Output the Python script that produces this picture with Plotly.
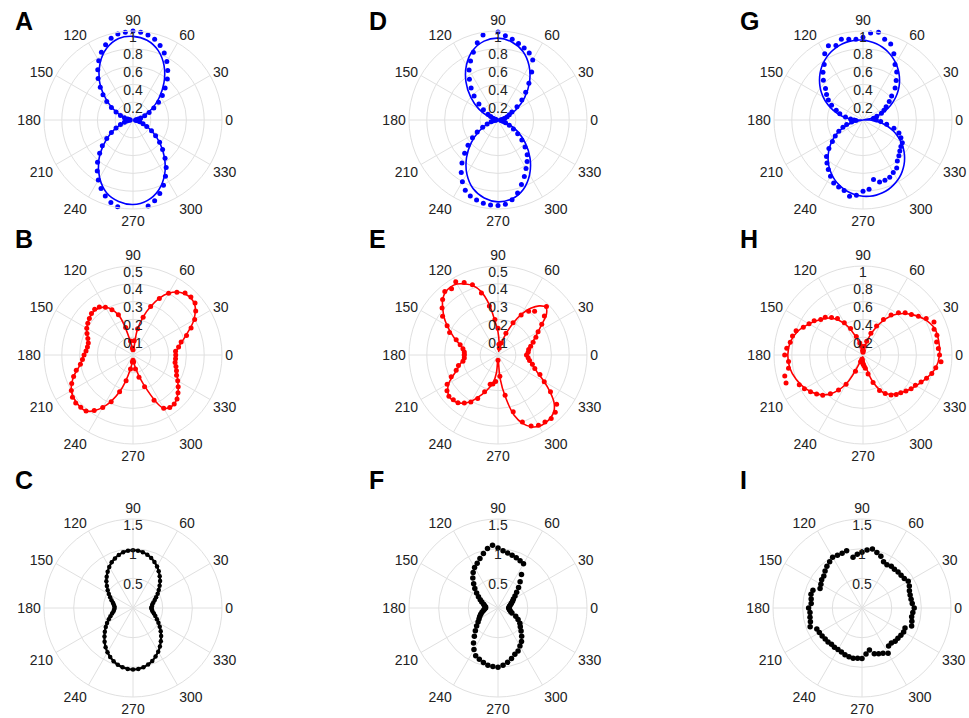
import plotly.graph_objects as go

W, H = 969, 718

# ---------------- angles / tick labels ----------------
ANG5 = list(range(0, 360, 5))
ANG10 = list(range(0, 360, 10))
ANG_TICKS = list(range(0, 360, 30))
ANG_LABELS = [str(a) for a in ANG_TICKS]

R_TICKS_1 = [0.2, 0.4, 0.6, 0.8, 1.0]
R_LABELS_1 = ["0.2", "0.4", "0.6", "0.8", "1"]
R_TICKS_05 = [0.1, 0.2, 0.3, 0.4, 0.5]
R_LABELS_05 = ["0.1", "0.2", "0.3", "0.4", "0.5"]
R_TICKS_15 = [0.5, 1.0, 1.5]
R_LABELS_15 = ["0.5", "1", "1.5"]

# ---------------- panel A (blue) ----------------
A_dots = [0.03, 0.04, 0.06, 0.09, 0.14, 0.20, 0.27, 0.35, 0.43, 0.51, 0.60, 0.68, 0.76, 0.83, 0.89, 0.94, 0.97, 0.99,
          1.00, 0.99, 0.98, 0.95, 0.90, 0.84, 0.77, 0.69, 0.61, 0.52, 0.44, 0.36, 0.28, 0.21, 0.15, 0.10, 0.06, 0.04,
          0.03, 0.04, 0.07, 0.10, 0.15, 0.21, 0.28, 0.36, 0.45, 0.53, 0.62, 0.70, 0.78, 0.85, 0.91, 0.96, 0.99, 1.01,
          1.02, 1.01, 0.98, 0.94, 0.88, 0.81, 0.73, 0.65, 0.56, 0.47, 0.39, 0.31, 0.24, 0.17, 0.12, 0.08, 0.05, 0.03]
A_fit = [0.02, 0.05, 0.12, 0.24, 0.38, 0.54, 0.70, 0.83, 0.91, 0.94, 0.93, 0.86, 0.74, 0.59, 0.42, 0.27, 0.14, 0.05,
         0.02, 0.06, 0.15, 0.28, 0.43, 0.60, 0.75, 0.87, 0.93, 0.95, 0.92, 0.84, 0.71, 0.55, 0.39, 0.24, 0.12, 0.05]

# ---------------- panel B (red) ----------------
B_dots = [0.24, 0.24, 0.26, 0.28, 0.32, 0.36, 0.40, 0.43, 0.455, 0.46, 0.455, 0.43, 0.40, 0.35, 0.29, 0.22, 0.15, 0.08,
          0.03, 0.04, 0.08, 0.16, 0.24, 0.28, 0.31, 0.33, 0.335, 0.33, 0.32, 0.31, 0.30, 0.285, 0.27, 0.26, 0.26, 0.265,
          0.275, 0.285, 0.30, 0.33, 0.355, 0.38, 0.40, 0.415, 0.42, 0.415, 0.41, 0.38, 0.34, 0.29, 0.22, 0.15, 0.08, 0.04,
          0.03, 0.04, 0.08, 0.13, 0.19, 0.28, 0.345, 0.36, 0.36, 0.35, 0.33, 0.31, 0.29, 0.27, 0.26, 0.25, 0.24, 0.24]
B_fit = [0.237, 0.26, 0.315, 0.395, 0.45, 0.45, 0.40, 0.29, 0.15, 0.02, 0.07, 0.24, 0.31, 0.33, 0.32, 0.30, 0.27, 0.26,
         0.275, 0.30, 0.355, 0.40, 0.415, 0.41, 0.34, 0.22, 0.08, 0.02, 0.07, 0.18, 0.345, 0.36, 0.33, 0.29, 0.26, 0.24]

# ---------------- panel C (black) ----------------
C_dots = [0.31, 0.32, 0.33, 0.355, 0.39, 0.43, 0.48, 0.53, 0.585, 0.645, 0.70, 0.755, 0.81, 0.855, 0.895, 0.93, 0.955, 0.97,
          0.975, 0.97, 0.955, 0.925, 0.89, 0.85, 0.80, 0.745, 0.69, 0.635, 0.575, 0.52, 0.47, 0.425, 0.385, 0.35, 0.33, 0.315,
          0.31, 0.32, 0.335, 0.365, 0.405, 0.45, 0.505, 0.56, 0.62, 0.68, 0.745, 0.805, 0.86, 0.91, 0.955, 0.99, 1.015, 1.03,
          1.035, 1.03, 1.015, 0.985, 0.95, 0.90, 0.85, 0.79, 0.73, 0.67, 0.61, 0.55, 0.495, 0.445, 0.40, 0.365, 0.335, 0.32]

# ---------------- panel D (blue) ----------------
D_dots = [0.03, 0.04, 0.06, 0.08, 0.11, 0.14, 0.18, 0.26, 0.35, 0.44, 0.54, 0.66, 0.78, 0.83, 0.86, 0.89, 0.92, 0.95,
          0.99, 1.01, 0.97, 0.90, 0.81, 0.73, 0.65, 0.56, 0.47, 0.38, 0.28, 0.20, 0.13, 0.09, 0.06, 0.04, 0.03, 0.02,
          0.02, 0.03, 0.05, 0.08, 0.13, 0.19, 0.27, 0.35, 0.44, 0.53, 0.63, 0.72, 0.80, 0.87, 0.91, 0.93, 0.95, 0.96,
          0.96, 0.95, 0.91, 0.85, 0.77, 0.70, 0.63, 0.57, 0.51, 0.43, 0.35, 0.27, 0.20, 0.14, 0.09, 0.06, 0.04, 0.03]
D_fit = [0.02, 0.04, 0.12, 0.24, 0.39, 0.55, 0.70, 0.82, 0.89, 0.92, 0.90, 0.83, 0.71, 0.56, 0.40, 0.25, 0.12, 0.04,
         0.02, 0.04, 0.12, 0.24, 0.39, 0.55, 0.70, 0.82, 0.89, 0.92, 0.90, 0.83, 0.71, 0.56, 0.40, 0.25, 0.12, 0.04]

# ---------------- panel E (red) ----------------
E_dots = [0.16, 0.17, 0.175, 0.19, 0.21, 0.235, 0.26, 0.30, 0.34, 0.385, 0.32, 0.30, 0.26, 0.20, 0.13, 0.07, 0.04, 0.06,
          0.15, 0.20, 0.28, 0.36, 0.42, 0.45, 0.475, 0.455, 0.465, 0.44, 0.41, 0.38, 0.33, 0.30, 0.25, 0.22, 0.20, 0.19,
          0.19, 0.19, 0.20, 0.23, 0.25, 0.29, 0.33, 0.35, 0.36, 0.355, 0.35, 0.33, 0.305, 0.27, 0.22, 0.17, 0.165, 0.15,
          0.03, 0.12, 0.23, 0.33, 0.40, 0.44, 0.455, 0.46, 0.465, 0.455, 0.43, 0.36, 0.30, 0.26, 0.22, 0.20, 0.18, 0.17]
E_fit = [0.165, 0.17, 0.18, 0.19, 0.205, 0.23, 0.26, 0.30, 0.355, 0.38, 0.36, 0.32, 0.265, 0.19, 0.12, 0.05, 0.02, 0.07,
         0.13, 0.19, 0.29, 0.37, 0.415, 0.44, 0.46, 0.466, 0.46, 0.44, 0.405, 0.37, 0.33, 0.29, 0.255, 0.22, 0.20, 0.185,
         0.18, 0.19, 0.205, 0.225, 0.245, 0.28, 0.32, 0.345, 0.36, 0.36, 0.35, 0.33, 0.30, 0.26, 0.225, 0.19, 0.16, 0.10,
         0.02, 0.13, 0.24, 0.35, 0.41, 0.445, 0.462, 0.465, 0.46, 0.445, 0.41, 0.355, 0.30, 0.25, 0.22, 0.195, 0.18, 0.17]

# ---------------- panel F (black) ----------------
F_dots = [0.18, 0.19, 0.20, 0.22, 0.24, 0.27, 0.30, 0.35, 0.41, 0.49, 0.58, 0.69, 0.86, 0.88, 0.90, 0.92, 0.94, 0.97,
          1.01, 1.06, 1.02, 0.95, 0.89, 0.83, 0.79, 0.73, 0.66, 0.58, 0.51, 0.44, 0.38, 0.33, 0.29, 0.25, 0.23, 0.21,
          0.21, 0.23, 0.25, 0.28, 0.31, 0.34, 0.37, 0.41, 0.47, 0.54, 0.62, 0.72, 0.81, 0.89, 0.92, 0.95, 0.98, 0.99,
          1.00, 0.97, 0.93, 0.88, 0.83, 0.80, 0.74, 0.69, 0.62, 0.55, 0.49, 0.45, 0.39, 0.33, 0.25, 0.22, 0.20, 0.19]

# ---------------- panel G (blue) ----------------
G_dots = [0.15, 0.12, 0.12, 0.16, 0.22, 0.26, 0.30, 0.36, 0.42, 0.51, 0.58, 0.66, 0.72, 0.82, 0.91, 0.94, 1.00, 0.98,
          0.93, 0.91, 0.92, 0.94, 0.89, 0.92, 0.86, 0.76, 0.70, 0.63, 0.55, 0.50, 0.45, 0.39, 0.32, 0.27, 0.20, 0.14,
          0.10, 0.08, 0.13, 0.19, 0.24, 0.30, 0.36, 0.42, 0.50, 0.58, 0.63, 0.68, 0.73, 0.78, 0.80, 0.82, 0.87, 0.85,
          0.80, 0.78, 0.68, 0.72, 0.72, 0.71, 0.68, 0.66, 0.60, 0.57, 0.54, 0.52, 0.51, 0.47, 0.43, 0.36, 0.27, 0.20]
G_fit = [0.075, 0.0, 0.078, 0.156, 0.233, 0.308, 0.38, 0.45, 0.516, 0.579, 0.636, 0.689, 0.737, 0.779, 0.816, 0.846,
         0.869, 0.886, 0.897, 0.90, 0.897, 0.886, 0.869, 0.846, 0.816, 0.779, 0.737, 0.689, 0.636, 0.579, 0.516, 0.45,
         0.38, 0.308, 0.233, 0.156, 0.078, 0.0, 0.075, 0.149, 0.223, 0.294, 0.363, 0.43, 0.493, 0.553, 0.608, 0.659,
         0.704, 0.745, 0.779, 0.808, 0.831, 0.847, 0.857, 0.86, 0.857, 0.847, 0.831, 0.808, 0.779, 0.745, 0.704, 0.659,
         0.608, 0.553, 0.493, 0.43, 0.363, 0.294, 0.223, 0.149]

# ---------------- panel H (red) ----------------
H_dots = [0.86, 0.85, 0.84, 0.86, 0.85, 0.88, 0.82, 0.76, 0.71, 0.67, 0.62, 0.55, 0.46, 0.36, 0.26, 0.16, 0.10, 0.05,
          0.03, 0.05, 0.10, 0.14, 0.22, 0.33, 0.42, 0.50, 0.55, 0.60, 0.62, 0.67, 0.70, 0.74, 0.80, 0.82, 0.83, 0.86,
          0.88, 0.84, 0.85, 0.91, 0.92, 0.79, 0.76, 0.72, 0.68, 0.64, 0.57, 0.48, 0.38, 0.20, 0.08, 0.05, 0.05, 0.08,
          0.10, 0.12, 0.15, 0.22, 0.33, 0.44, 0.50, 0.55, 0.58, 0.60, 0.63, 0.66, 0.68, 0.72, 0.76, 0.80, 0.83, 0.88]
H_fit = [0.86, 0.865, 0.86, 0.80, 0.71, 0.60, 0.44, 0.24, 0.08, 0.02, 0.05, 0.19, 0.40, 0.54, 0.62, 0.70, 0.78, 0.83,
         0.845, 0.835, 0.80, 0.75, 0.68, 0.57, 0.37, 0.06, 0.02, 0.03, 0.08, 0.32, 0.50, 0.57, 0.63, 0.69, 0.76, 0.83]

# ---------------- panel I (black) ----------------
I_dots = [0.88, 0.85, 0.84, 0.84, 0.85, 0.88, 0.90, 0.87, 0.86, 0.86, 0.85, 0.86, 0.84, 0.86, 0.93, 0.97, 1.01, 0.98,
          0.94, 0.91, 0.87, 1.00, 0.98, 0.98, 0.99, 0.95, 0.92, 0.88, 0.84, 0.83, 0.80, 0.78, 0.88, 0.89, 0.87, 0.86,
          0.90, 0.88, 0.89, 0.90, 0.93, 0.84, 0.83, 0.82, 0.81, 0.81, 0.80, 0.81, 0.81, 0.82, 0.84, 0.85, 0.86, 0.85,
          0.85, 0.78, 0.72, 0.80, 0.82, 0.84, 0.88, 0.78, 0.77, 0.79, 0.79, 0.80, 0.81, 0.80, 0.89, 0.87, 0.85, 0.86]

BLUE, RED, BLACK = "#0000ff", "#ff0000", "#000000"
GRID = "#e0e0e0"
TXT = "#222222"
FONT = "Arial, Liberation Sans, sans-serif"

panels = [
    # letter, centre(px), rmax, ticks, labels, color, dots, fit, fit angles, dense
    ("A", (133, 120), 1.0, R_TICKS_1, R_LABELS_1, BLUE, A_dots, A_fit, ANG10, False),
    ("B", (133, 355), 0.5, R_TICKS_05, R_LABELS_05, RED, B_dots, B_fit, ANG10, False),
    ("C", (133, 608), 1.5, R_TICKS_15, R_LABELS_15, BLACK, C_dots, None, None, True),
    ("D", (498, 120), 1.0, R_TICKS_1, R_LABELS_1, BLUE, D_dots, D_fit, ANG10, False),
    ("E", (498, 355), 0.5, R_TICKS_05, R_LABELS_05, RED, E_dots, E_fit, ANG5, False),
    ("F", (498, 608), 1.5, R_TICKS_15, R_LABELS_15, BLACK, F_dots, None, None, False),
    ("G", (863, 120), 1.0, R_TICKS_1, R_LABELS_1, BLUE, G_dots, G_fit, ANG5, False),
    ("H", (863, 355), 1.0, R_TICKS_1, R_LABELS_1, RED, H_dots, H_fit, ANG10, False),
    ("I", (862, 608), 1.5, R_TICKS_15, R_LABELS_15, BLACK, I_dots, None, None, False),
]
LETTER_POS = {"A": (13, 21), "B": (13, 239), "C": (13, 480),
              "D": (367, 21), "E": (367, 239), "F": (367, 480),
              "G": (738, 21), "H": (738, 239), "I": (738, 480)}
RPX = 89

fig = go.Figure()
layout = {}
annotations = []
for i, (letter, (cx, cy), rmax, rt, rl, col, dots, fit, fang, dense) in enumerate(panels):
    pid = "polar" if i == 0 else f"polar{i + 1}"
    layout[pid] = dict(
        domain=dict(x=[(cx - RPX) / W, (cx + RPX) / W], y=[1 - (cy + RPX) / H, 1 - (cy - RPX) / H]),
        bgcolor="white",
        radialaxis=dict(range=[0, rmax], tickvals=rt, showticklabels=False, ticks="", showline=False,
                        gridcolor=GRID, gridwidth=1, angle=90),
        angularaxis=dict(tickmode="array", tickvals=ANG_TICKS, ticktext=ANG_LABELS, direction="counterclockwise",
                         rotation=0, showline=True, linecolor=GRID, linewidth=1, gridcolor=GRID, ticks="",
                         tickfont=dict(family=FONT, size=14, color=TXT)),
    )
    if dense:
        fig.add_trace(go.Scatterpolar(r=dots + [dots[0]], theta=ANG5 + [360], mode="lines+markers", subplot=pid,
                                      line=dict(color=col, width=2.2, shape="spline"),
                                      marker=dict(color=col, size=4.5), cliponaxis=False, hoverinfo="skip"))
    else:
        if fit is not None:
            fig.add_trace(go.Scatterpolar(r=fit + [fit[0]], theta=fang + [360], mode="lines", subplot=pid,
                                          line=dict(color=col, width=1.6, shape="spline"), cliponaxis=False,
                                          hoverinfo="skip"))
        fig.add_trace(go.Scatterpolar(r=dots, theta=ANG5, mode="markers", subplot=pid,
                                      marker=dict(color=col, size=5 if col != BLACK else 5.5),
                                      cliponaxis=False, hoverinfo="skip"))
    # radial tick labels along the 90 degree spoke
    fig.add_trace(go.Scatterpolar(r=rt, theta=[90] * len(rt), mode="text", text=rl, subplot=pid,
                                  textposition="bottom center", cliponaxis=False,
                                  textfont=dict(family=FONT, size=14, color=TXT), hoverinfo="skip"))
    lx, ly = LETTER_POS[letter]
    annotations.append(dict(text=f"<b>{letter}</b>", x=lx / W, y=1 - ly / H, xref="paper", yref="paper",
                            xanchor="left", yanchor="middle", showarrow=False,
                            font=dict(family=FONT, size=25, color="black")))

fig.update_layout(width=W, height=H, margin=dict(l=0, r=0, t=0, b=0), paper_bgcolor="white",
                  plot_bgcolor="white", showlegend=False, annotations=annotations, **layout)
fig.write_html("out.html")
